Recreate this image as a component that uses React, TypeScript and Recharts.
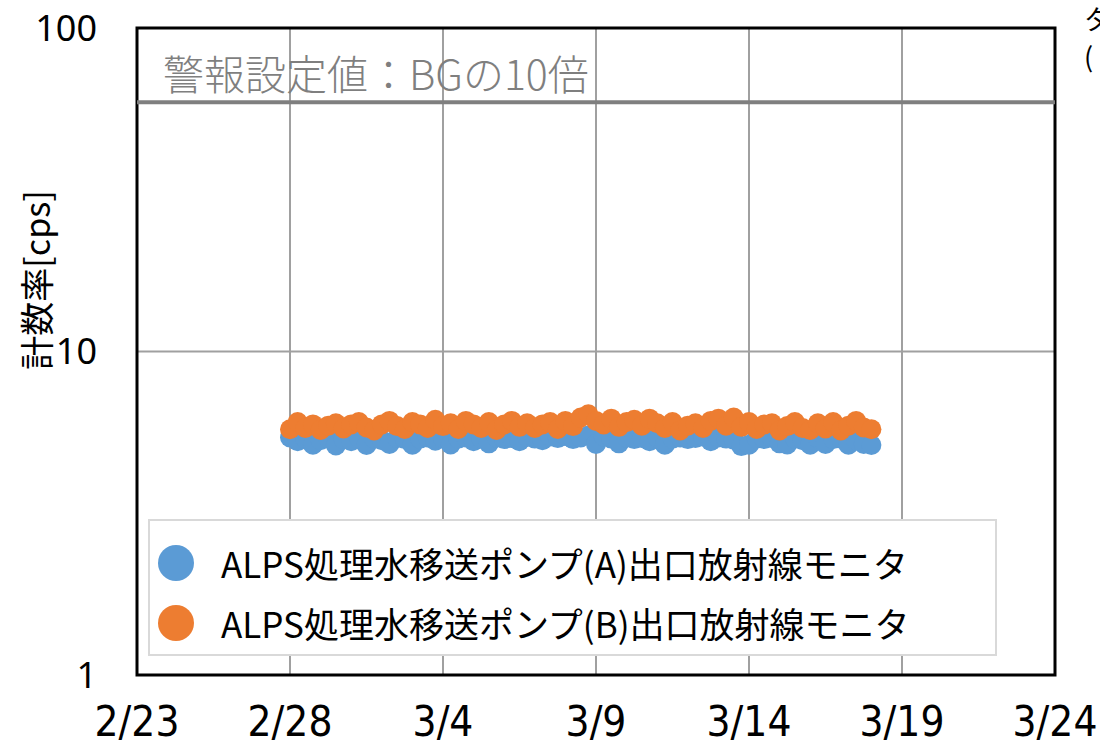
import React from 'react';
import {
  ScatterChart,
  Scatter,
  XAxis,
  YAxis,
  CartesianGrid,
  ReferenceLine,
  ReferenceArea,
} from 'recharts';

// x axis: days counted from 2/23
const xTicks = [0, 5, 10, 15, 20, 25, 30];
const xTickLabels = ['2/23', '2/28', '3/4', '3/9', '3/14', '3/19', '3/24'];
const yTicks = [1, 10, 100];

// sampling: from 2/28 00:00, every 6 hours
const startDay = 5;
const stepDays = 0.25;

const seriesA = [
  5.42, 5.28, 5.38, 5.15, 5.32, 5.4, 5.12, 5.36, 5.28, 5.42, 5.14, 5.38, 5.32, 5.18, 5.4, 5.36,
  5.15, 5.38, 5.42, 5.3, 5.4, 5.16, 5.38, 5.42, 5.28, 5.38, 5.2, 5.42, 5.36, 5.4, 5.28, 5.44,
  5.38, 5.32, 5.46, 5.4, 5.48, 5.36, 5.42, 5.5, 5.18, 5.46, 5.38, 5.2, 5.42, 5.36, 5.4, 5.28,
  5.42, 5.15, 5.38, 5.42, 5.36, 5.4, 5.46, 5.28, 5.42, 5.38, 5.34, 5.1, 5.15, 5.38, 5.36, 5.4,
  5.2, 5.16, 5.38, 5.32, 5.15, 5.4, 5.18, 5.36, 5.38, 5.15, 5.32, 5.18, 5.14,
];

const seriesB = [
  5.75, 6.05, 5.8, 5.95, 5.72, 5.9, 6.0, 5.78, 5.95, 6.05, 5.82, 5.7, 5.95, 6.1, 5.88, 5.76,
  6.05, 5.95, 5.8, 6.15, 5.88, 6.0, 5.76, 6.1, 5.95, 5.8, 6.05, 5.72, 5.95, 6.1, 5.85, 6.0,
  5.8, 5.95, 6.05, 5.76, 6.1, 5.88, 6.25, 6.4, 6.1, 5.95, 6.2, 5.85, 6.05, 6.15, 5.9, 6.2,
  6.0, 5.8, 6.05, 5.7, 5.9, 6.0, 5.8, 6.1, 6.2, 5.9, 6.25, 5.85, 6.05, 5.76, 5.95, 6.0,
  5.7, 5.88, 6.05, 5.8, 5.72, 6.0, 5.78, 6.05, 5.7, 5.9, 6.1, 5.82, 5.75,
];

const alarmLevel = 59;
const alarmLabel = '警報設定値：BGの10倍';
const nameA = 'ALPS処理水移送ポンプ(A)出口放射線モニタ';
const nameB = 'ALPS処理水移送ポンプ(B)出口放射線モニタ';
const yAxisTitle = '計数率[cps]';
const colorA = '#5b9bd5';
const colorB = '#ed7d31';

const dataA = seriesA.map((v, i) => ({ day: startDay + i * stepDays, value: v }));
const dataB = seriesB.map((v, i) => ({ day: startDay + i * stepDays, value: v }));

const cjk = '"Noto Sans CJK JP", "Noto Sans", sans-serif';

const makeDot = (color: string) => (props: any) => {
  if (props.cx == null || props.cy == null) return <g />;
  return <circle cx={props.cx} cy={props.cy} r={10} fill={color} />;
};

const legendItems = [
  { name: nameA, color: colorA },
  { name: nameB, color: colorB },
];

export default function App() {
  return (
    <div
      style={{
        position: 'absolute',
        left: 0,
        top: 0,
        width: 1100,
        height: 747,
        overflow: 'hidden',
        background: '#ffffff',
      }}
    >
      <ScatterChart
        width={1100}
        height={747}
        margin={{ top: 28, right: 45, left: 0, bottom: 0 }}
      >
        <CartesianGrid stroke="#a0a0a0" strokeWidth={2} />
        <XAxis
          type="number"
          dataKey="day"
          domain={[0, 30]}
          ticks={xTicks}
          tickFormatter={(v: number) => xTickLabels[xTicks.indexOf(v)] ?? ''}
          axisLine={false}
          tickLine={false}
          tickSize={0}
          tickMargin={31}
          height={72}
          interval={0}
          tick={{
            fill: '#000',
            fontSize: 42,
            fontFamily: '"Liberation Sans Narrow", "DejaVu Sans Condensed", sans-serif',
          }}
        />
        <YAxis
          type="number"
          dataKey="value"
          scale="log"
          domain={[1, 100]}
          ticks={yTicks}
          allowDataOverflow
          axisLine={false}
          tickLine={false}
          tickSize={0}
          tickMargin={40}
          width={137}
          interval={0}
          tick={{ fill: '#000', fontSize: 36, fontFamily: '"Noto Sans", sans-serif' }}
          label={{
            content: () => (
              <text
                x={50}
                y={280}
                transform="rotate(-90 50 280)"
                textAnchor="middle"
                fontSize={34}
                fontFamily={cjk}
                fill="#000"
              >
                {yAxisTitle}
              </text>
            ),
          }}
        />
        <ReferenceLine
          y={alarmLevel}
          stroke="#7f7f7f"
          strokeWidth={4}
          label={{
            content: (props: any) => {
              const vb = props.viewBox || { x: 137, y: 102 };
              return (
                <text
                  x={vb.x + 26}
                  y={vb.y - 12}
                  fill="#7f7f7f"
                  fontSize={41}
                  fontWeight={300}
                  fontFamily={cjk}
                >
                  {alarmLabel}
                </text>
              );
            },
          }}
        />
        <ReferenceArea
          x1={0}
          x2={30}
          y1={1}
          y2={100}
          fill="none"
          fillOpacity={0}
          stroke="#000"
          strokeWidth={3}
          strokeOpacity={1}
        />
        <Scatter
          name={nameA}
          data={dataA}
          fill={colorA}
          shape={makeDot(colorA)}
          isAnimationActive={false}
        />
        <Scatter
          name={nameB}
          data={dataB}
          fill={colorB}
          shape={makeDot(colorB)}
          isAnimationActive={false}
        />
      </ScatterChart>
      <div
        style={{
          position: 'absolute',
          left: 148,
          top: 519,
          width: 845,
          height: 133,
          background: '#ffffff',
          border: '2px solid #d9d9d9',
          fontFamily: cjk,
          fontSize: 35,
          color: '#000',
        }}
      >
        {legendItems.map((e, i) => (
          <div
            key={i}
            style={{
              position: 'absolute',
              left: 8,
              top: i === 0 ? 22 : 82,
              display: 'flex',
              alignItems: 'center',
              height: 40,
              whiteSpace: 'nowrap',
            }}
          >
            <div
              style={{
                width: 36,
                height: 36,
                borderRadius: '50%',
                background: e.color,
                marginRight: 27,
              }}
            />
            <span style={{ lineHeight: '40px' }}>{e.name}</span>
          </div>
        ))}
      </div>
      <div
        style={{
          position: 'absolute',
          left: 1084,
          top: 0,
          fontFamily: cjk,
          fontSize: 27,
          lineHeight: '37px',
          color: '#000',
          whiteSpace: 'nowrap',
        }}
      >
        <div>タンク</div>
        <div>(</div>
      </div>
    </div>
  );
}
